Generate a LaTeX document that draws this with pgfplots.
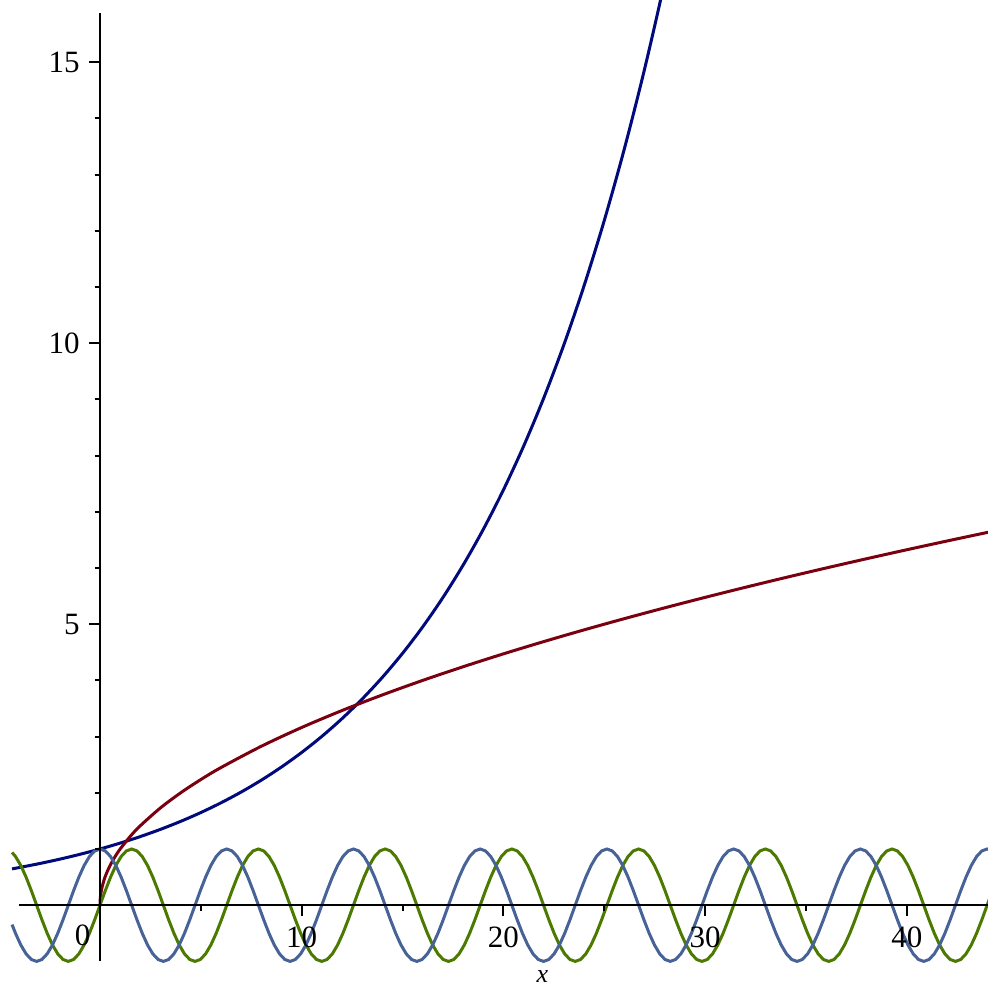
\documentclass[border=0pt]{standalone}
\usepackage{pgfplots}
\pgfplotsset{compat=1.18}
\usepackage{fontspec}
\setmainfont{Liberation Serif}
\definecolor{cexp}{RGB}{0,10,122}
\definecolor{csqrt}{RGB}{122,0,16}
\definecolor{csin}{RGB}{76,122,0}
\definecolor{ccos}{RGB}{70,98,150}
\pgfplotstableread{
x y
-4.36 0.6466
-4 0.6703
-3 0.7408
-2 0.8187
-1 0.9048
0 1
1 1.1052
2 1.2214
3 1.3499
4 1.4918
5 1.6487
6 1.8221
7 2.0138
8 2.2255
9 2.4596
10 2.7183
11 3.0042
12 3.3201
13 3.6693
14 4.0552
15 4.4817
16 4.9530
17 5.4739
18 6.0496
19 6.6859
20 7.3891
21 8.1662
22 9.0250
23 9.9742
24 11.0232
25 12.1825
26 13.4637
27 14.8797
28 16.4446
29 18.1741
}\expdata
\pgfplotstableread{
x y
0 0
0.01 0.1
0.02 0.1414
0.05 0.2236
0.1 0.3162
0.2 0.4472
0.3 0.5477
0.5 0.7071
0.75 0.8660
1 1
1.5 1.2247
2 1.4142
3 1.7321
4 2
5 2.2361
6 2.4495
8 2.8284
10 3.1623
12 3.4641
14 3.7417
16 4
18 4.2426
20 4.4721
22 4.6904
24 4.8990
26 5.0990
28 5.2915
30 5.4772
32 5.6569
34 5.8310
36 6
38 6.1644
40 6.3246
42 6.4807
44 6.6332
45 6.7082
}\sqrtdata
\pgfplotstableread{
x s c
-4.36 0.9385 -0.3451
-4.1888 0.8660 -0.5
-3.9270 0.7071 -0.7071
-3.6652 0.5 -0.8660
-3.4034 0.2588 -0.9659
-3.1416 0 -1
-2.8798 -0.2588 -0.9659
-2.6180 -0.5 -0.8660
-2.3562 -0.7071 -0.7071
-2.0944 -0.8660 -0.5
-1.8326 -0.9659 -0.2588
-1.5708 -1 0
-1.3090 -0.9659 0.2588
-1.0472 -0.8660 0.5
-0.7854 -0.7071 0.7071
-0.5236 -0.5 0.8660
-0.2618 -0.2588 0.9659
0 0 1
0.2618 0.2588 0.9659
0.5236 0.5 0.8660
0.7854 0.7071 0.7071
1.0472 0.8660 0.5
1.3090 0.9659 0.2588
1.5708 1 0
1.8326 0.9659 -0.2588
2.0944 0.8660 -0.5
2.3562 0.7071 -0.7071
2.6180 0.5 -0.8660
2.8798 0.2588 -0.9659
3.1416 0 -1
3.4034 -0.2588 -0.9659
3.6652 -0.5 -0.8660
3.9270 -0.7071 -0.7071
4.1888 -0.8660 -0.5
4.4506 -0.9659 -0.2588
4.7124 -1 0
4.9742 -0.9659 0.2588
5.2360 -0.8660 0.5
5.4978 -0.7071 0.7071
5.7596 -0.5 0.8660
6.0214 -0.2588 0.9659
6.2832 0 1
6.5450 0.2588 0.9659
6.8068 0.5 0.8660
7.0686 0.7071 0.7071
7.3304 0.8660 0.5
7.5922 0.9659 0.2588
7.8540 1 0
8.1158 0.9659 -0.2588
8.3776 0.8660 -0.5
8.6394 0.7071 -0.7071
8.9012 0.5 -0.8660
9.1630 0.2588 -0.9659
9.4248 0 -1
9.6866 -0.2588 -0.9659
9.9484 -0.5 -0.8660
10.2102 -0.7071 -0.7071
10.4720 -0.8660 -0.5
10.7338 -0.9659 -0.2588
10.9956 -1 0
11.2574 -0.9659 0.2588
11.5192 -0.8660 0.5
11.7810 -0.7071 0.7071
12.0428 -0.5 0.8660
12.3046 -0.2588 0.9659
12.5664 0 1
12.8282 0.2588 0.9659
13.0900 0.5 0.8660
13.3518 0.7071 0.7071
13.6136 0.8660 0.5
13.8754 0.9659 0.2588
14.1372 1 0
14.3990 0.9659 -0.2588
14.6608 0.8660 -0.5
14.9226 0.7071 -0.7071
15.1844 0.5 -0.8660
15.4462 0.2588 -0.9659
15.7080 0 -1
15.9698 -0.2588 -0.9659
16.2316 -0.5 -0.8660
16.4934 -0.7071 -0.7071
16.7552 -0.8660 -0.5
17.0170 -0.9659 -0.2588
17.2788 -1 0
17.5406 -0.9659 0.2588
17.8024 -0.8660 0.5
18.0642 -0.7071 0.7071
18.3260 -0.5 0.8660
18.5878 -0.2588 0.9659
18.8496 0 1
19.1114 0.2588 0.9659
19.3732 0.5 0.8660
19.6350 0.7071 0.7071
19.8968 0.8660 0.5
20.1586 0.9659 0.2588
20.4204 1 0
20.6822 0.9659 -0.2588
20.9440 0.8660 -0.5
21.2058 0.7071 -0.7071
21.4676 0.5 -0.8660
21.7294 0.2588 -0.9659
21.9911 0 -1
22.2529 -0.2588 -0.9659
22.5147 -0.5 -0.8660
22.7765 -0.7071 -0.7071
23.0383 -0.8660 -0.5
23.3001 -0.9659 -0.2588
23.5619 -1 0
23.8237 -0.9659 0.2588
24.0855 -0.8660 0.5
24.3473 -0.7071 0.7071
24.6091 -0.5 0.8660
24.8709 -0.2588 0.9659
25.1327 0 1
25.3945 0.2588 0.9659
25.6563 0.5 0.8660
25.9181 0.7071 0.7071
26.1799 0.8660 0.5
26.4417 0.9659 0.2588
26.7035 1 0
26.9653 0.9659 -0.2588
27.2271 0.8660 -0.5
27.4889 0.7071 -0.7071
27.7507 0.5 -0.8660
28.0125 0.2588 -0.9659
28.2743 0 -1
28.5361 -0.2588 -0.9659
28.7979 -0.5 -0.8660
29.0597 -0.7071 -0.7071
29.3215 -0.8660 -0.5
29.5833 -0.9659 -0.2588
29.8451 -1 0
30.1069 -0.9659 0.2588
30.3687 -0.8660 0.5
30.6305 -0.7071 0.7071
30.8923 -0.5 0.8660
31.1541 -0.2588 0.9659
31.4159 0 1
31.6777 0.2588 0.9659
31.9395 0.5 0.8660
32.2013 0.7071 0.7071
32.4631 0.8660 0.5
32.7249 0.9659 0.2588
32.9867 1 0
33.2485 0.9659 -0.2588
33.5103 0.8660 -0.5
33.7721 0.7071 -0.7071
34.0339 0.5 -0.8660
34.2957 0.2588 -0.9659
34.5575 0 -1
34.8193 -0.2588 -0.9659
35.0811 -0.5 -0.8660
35.3429 -0.7071 -0.7071
35.6047 -0.8660 -0.5
35.8665 -0.9659 -0.2588
36.1283 -1 0
36.3901 -0.9659 0.2588
36.6519 -0.8660 0.5
36.9137 -0.7071 0.7071
37.1755 -0.5 0.8660
37.4373 -0.2588 0.9659
37.6991 0 1
37.9609 0.2588 0.9659
38.2227 0.5 0.8660
38.4845 0.7071 0.7071
38.7463 0.8660 0.5
39.0081 0.9659 0.2588
39.2699 1 0
39.5317 0.9659 -0.2588
39.7935 0.8660 -0.5
40.0553 0.7071 -0.7071
40.3171 0.5 -0.8660
40.5789 0.2588 -0.9659
40.8407 0 -1
41.1025 -0.2588 -0.9659
41.3643 -0.5 -0.8660
41.6261 -0.7071 -0.7071
41.8879 -0.8660 -0.5
42.1497 -0.9659 -0.2588
42.4115 -1 0
42.6733 -0.9659 0.2588
42.9351 -0.8660 0.5
43.1969 -0.7071 0.7071
43.4587 -0.5 0.8660
43.7205 -0.2588 0.9659
43.9823 0 1
44.2441 0.2588 0.9659
}\trigdata
\begin{document}
\begin{tikzpicture}
\begin{axis}[
  x=10.085pt, y=28.1pt,
  axis lines=middle,
  axis on top,
  axis line style={-, line width=1pt, black},
  xmin=-4.02, xmax=44, ymin=-1, ymax=15.87,
  clip=false,
  xtick={10,20,30,40},
  minor xtick={5,15,25,35},
  ytick={5,10,15},
  minor ytick={1,2,3,4,6,7,8,9,11,12,13,14},
  tick align=outside,
  major tick length=5.5pt,
  minor tick length=2.75pt,
  every tick/.style={black, line width=1pt},
  every minor tick/.style={black, line width=1pt},
  tick label style={font=\fontsize{15.5}{18}\selectfont},
  /pgf/number format/assume math mode=true,
  xticklabel style={anchor=north, inner sep=0pt, yshift=-5pt},
  yticklabel style={anchor=east, inner sep=0pt, xshift=-4.5pt},
]
\addplot[cexp, line width=1.5pt, smooth] table[x=x, y=y] {\expdata};
\addplot[csqrt, line width=1.5pt, smooth] table[x=x, y=y] {\sqrtdata};
\addplot[csin, line width=1.5pt] table[x=x, y=s] {\trigdata};
\addplot[ccos, line width=1.5pt] table[x=x, y=c] {\trigdata};
\coordinate (o) at (axis cs:0,0);
\end{axis}
\node[font=\fontsize{15.5}{18}\selectfont] at ([xshift=-8.75pt, yshift=-14.9pt]o) {0};
\node[font=\fontsize{13}{15}\selectfont\itshape] at ([xshift=221.25pt, yshift=-35.9pt]o) {x};
\pgfresetboundingbox
\path[use as bounding box] ([xshift=-50pt, yshift=-41.4pt]o) rectangle ++(493.5pt,494pt);
\end{tikzpicture}
\end{document}
